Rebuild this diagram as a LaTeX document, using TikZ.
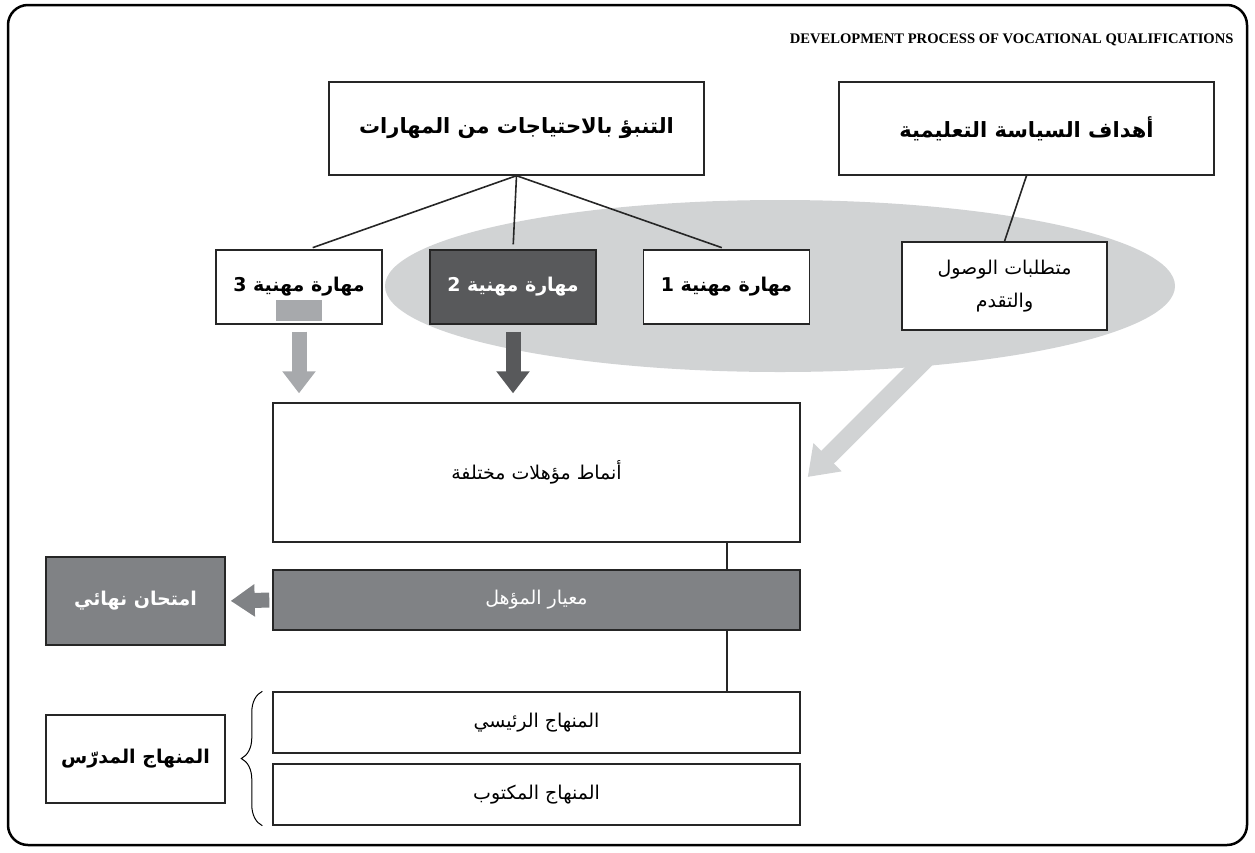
\documentclass[tikz,border=0pt]{standalone}
\usepackage{fontspec}
\usetikzlibrary{arrows.meta,positioning,shapes.geometric,calc,decorations.pathreplacing}
\newfontfamily\arabicfont[Script=Arabic]{DejaVu Sans}
\newfontfamily\titlefont{Liberation Serif}
\TeXXeTstate=1
\definecolor{darkgrey}{HTML}{58595B}
\definecolor{midgrey}{HTML}{808285}
\definecolor{lightgrey}{HTML}{D1D3D4}
\definecolor{arrowgrey}{HTML}{A7A9AC}

\begin{document}
\begin{tikzpicture}[x=1pt, y=-1pt,
  box/.style={draw=black!85, line width=1.4pt, fill=white, minimum width=166pt, minimum height=74pt,
    inner sep=0pt, align=center, font=\arabicfont\fontsize{19}{33}\selectfont},
  boldbox/.style={box, font=\arabicfont\bfseries\fontsize{19}{24}\selectfont},
  topbox/.style={boldbox, minimum width=375pt, minimum height=93pt, font=\arabicfont\bfseries\fontsize{21}{26}\selectfont},
  widebox/.style={box, minimum width=527pt},
  link/.style={line width=1.6pt, draw=black!85},
  fatarrow/.style={line width=15pt, -{Triangle[width=32pt,length=22pt]}}
]
\useasboundingbox (0,0) rectangle (1255,852);
\draw[line width=2.5pt, rounded corners=20pt] (8,5) rectangle (1247,845);

\node[anchor=east, font=\titlefont\bfseries\fontsize{14.6}{18}\selectfont] (title) at (1237,40)
  {DEVELOPMENT PROCESS OF VOCATIONAL QUALIFICATIONS};

% shaded group behind the skills
\node[ellipse, fill=lightgrey, minimum width=790pt, minimum height=172pt, inner sep=0pt] (ell) at (780,286) {};
\coordinate (src) at (935,350);

\node[topbox] (needs) at (516.5,128.5) {\beginR التنبؤ بالاحتياجات من المهارات\endR};
\node[topbox] (policy) at (1026.5,128.5) {\beginR أهداف السياسة التعليمية\endR};

\node[boldbox] (skillc) at (299,287) {\raisebox{5pt}{\beginR مهارة مهنية 3\endR}};
\node[boldbox, fill=darkgrey, text=white] (skillb) at (513,287) {\beginR مهارة مهنية 2\endR};
\node[boldbox] (skilla) at (726.5,287) {\beginR مهارة مهنية 1\endR};
\node[box, minimum width=205pt, minimum height=88pt] (access) at (1004.5,286)
  {\beginR متطلبات الوصول\endR\\\beginR والتقدم\endR};
\node[fill=arrowgrey, minimum width=46pt, minimum height=21pt, inner sep=0pt] (mark) at (299,310.5) {};

\node[widebox, minimum height=139pt] (types) at (536.5,472.5) {\beginR أنماط مؤهلات مختلفة\endR};
\node[widebox, minimum height=60pt, fill=midgrey, text=white] (standard) at (536.5,600) {\beginR معيار المؤهل\endR};
\node[boldbox, minimum width=179pt, minimum height=88pt, fill=midgrey, text=white] (exam) at (135.5,601)
  {\beginR امتحان نهائي\endR};
\node[widebox, minimum height=61pt] (core) at (536.5,722.5) {\beginR المنهاج الرئيسي\endR};
\node[widebox, minimum height=61pt] (written) at (536.5,794.5) {\beginR المنهاج المكتوب\endR};
\node[boldbox, minimum width=179pt, minimum height=88pt] (taught) at (135.5,759) {\beginR المنهاج المدرّس\endR};

\draw[link, shorten >=5pt] (needs.south) -- ([xshift=9pt]skillc.north);
\draw[link, shorten >=5pt] (needs.south) -- (skillb.north);
\draw[link, shorten >=5pt] (needs.south) -- (skilla.north);
\draw[link] (policy.south) -- (access.north);
\draw[link] ([xshift=190.5pt]types.south) -- ([xshift=190.5pt]standard.north);
\draw[link] ([xshift=190.5pt]standard.south) -- ([xshift=190.5pt]core.north);

\draw[fatarrow, arrowgrey, shorten <=7pt, shorten >=9pt] (skillc.south) -- (skillc.south |- types.north);
\draw[fatarrow, darkgrey, shorten <=7pt, shorten >=9pt] (skillb.south) -- (skillb.south |- types.north);
\draw[fatarrow, midgrey, -{Triangle[width=31pt,length=24pt]}, shorten <=3pt, shorten >=5pt] (standard.west) -- (exam.east);
\draw[lightgrey, line width=18pt, -{Triangle[width=38pt,length=28pt]}] (src) -- ($(types.east)+(7,4.5)$);

\draw[decorate, decoration={brace, amplitude=21pt}, line width=1pt]
  ($(written.south west)+(-10,0)$) -- ($(core.north west)+(-10,0)$);
\end{tikzpicture}
\end{document}
